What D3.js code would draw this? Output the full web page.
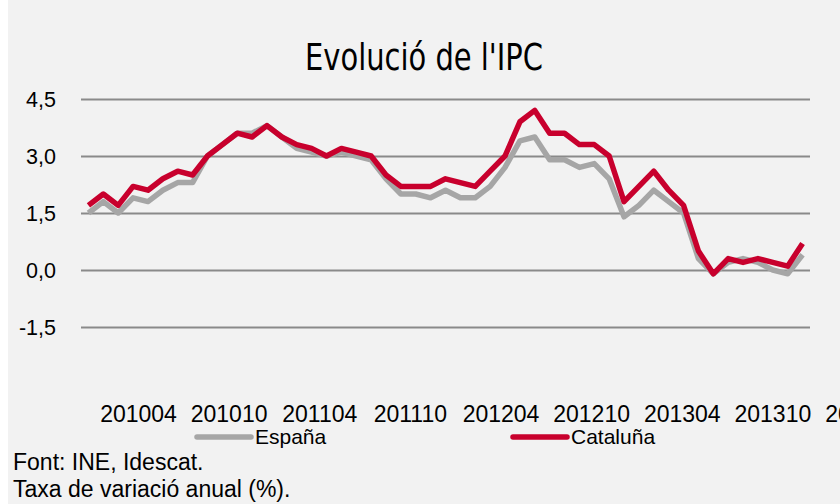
<!DOCTYPE html>
<html><head><meta charset="utf-8">
<script src="https://cdn.jsdelivr.net/npm/d3@7"></script>
<style>
html,body{margin:0;padding:0;background:#fff;}
svg{display:block;}
text{font-family:"Liberation Sans",Arial,sans-serif;fill:#000;}
</style></head>
<body>
<svg id="c" width="840" height="504"></svg>
<script>
const months = ["201004","201005","201006","201007","201008","201009","201010","201011","201012",
"201101","201102","201103","201104","201105","201106","201107","201108","201109","201110","201111","201112",
"201201","201202","201203","201204","201205","201206","201207","201208","201209","201210","201211","201212",
"201301","201302","201303","201304","201305","201306","201307","201308","201309","201310","201311","201312",
"201401","201402","201403","201404"];
const espana = [1.5,1.8,1.5,1.9,1.8,2.1,2.3,2.3,3.0,
3.3,3.6,3.6,3.8,3.5,3.2,3.1,3.0,3.1,3.0,2.9,2.4,
2.0,2.0,1.9,2.1,1.9,1.9,2.2,2.7,3.4,3.5,2.9,2.9,
2.7,2.8,2.4,1.4,1.7,2.1,1.8,1.5,0.3,-0.1,0.2,0.3,
0.2,0.0,-0.1,0.4];
const catalunya = [1.7,2.0,1.7,2.2,2.1,2.4,2.6,2.5,3.0,
3.3,3.6,3.5,3.8,3.5,3.3,3.2,3.0,3.2,3.1,3.0,2.5,
2.2,2.2,2.2,2.4,2.3,2.2,2.6,3.0,3.9,4.2,3.6,3.6,
3.3,3.3,3.0,1.8,2.2,2.6,2.1,1.7,0.5,-0.1,0.3,0.2,
0.3,0.2,0.1,0.7];
const yTicks = [4.5,3.0,1.5,0.0,-1.5];
const xLabelMonths = ["201004","201010","201104","201110","201204","201210","201304","201310","201404"];
const seriesNames = ["España","Cataluña"];
const colors = ["#a6a6a6","#c8002d"];
const title = "Evolució de l'IPC";
const notes = ["Font: INE, Idescat.","Taxa de variació anual (%)."];

const svg = d3.select("#c");
svg.append("rect").attr("x",8).attr("y",0).attr("width",832).attr("height",504).attr("fill","#f2f2f2");

const x = d3.scaleBand().domain(months).range([81,810]);
const xc = m => x(m) + x.bandwidth()/2;
const y = d3.scaleLinear().domain([-3,4.5]).range([384,99]);

// title
svg.append("text").attr("x",424).attr("y",70).attr("text-anchor","middle")
  .style("font-family","'Liberation Sans Narrow','DejaVu Sans Condensed',sans-serif")
  .style("font-size","38px").attr("textLength",238).attr("lengthAdjust","spacingAndGlyphs").text(title);

// gridlines
const yAxis = d3.axisLeft(y).tickValues(yTicks).tickSize(-729).tickPadding(25)
  .tickFormat(d => d3.format(".1f")(d).replace(".",",").replace("−","-"));
const gy = svg.append("g").attr("transform","translate(81,0)").call(yAxis);
gy.select(".domain").remove();
gy.selectAll(".tick line").attr("stroke","#8a8a8a").attr("stroke-width",1.8);
gy.selectAll(".tick text").style("font-size","21.5px").attr("fill","#000").attr("dy","0.36em");

// lines
const line = d3.line().x((d,i)=>xc(months[i])).y(d=>y(d));
[espana,catalunya].forEach((s,k)=>{
  svg.append("path").datum(s).attr("d",line).attr("fill","none")
    .attr("stroke",colors[k]).attr("stroke-width",5.5)
    .attr("stroke-linejoin","round").attr("stroke-linecap","butt");
});

// x labels (positioned on their own label scale)
const xl = d3.scalePoint().domain(xLabelMonths).range([138,863]);
const xAxis = d3.axisBottom(xl).tickSize(0).tickPadding(0);
const gx = svg.append("g").attr("transform","translate(0,405)").call(xAxis);
gx.select(".domain").remove();
gx.selectAll(".tick text").style("font-size","23px").attr("fill","#000").attr("dy","0.76em");

// legend
const legX = d3.scaleOrdinal().domain(seriesNames).range([197,513]);
seriesNames.forEach((n,k)=>{
  const lx = legX(n);
  svg.append("line").attr("x1",lx).attr("x2",lx+54).attr("y1",437).attr("y2",437)
    .attr("stroke",colors[k]).attr("stroke-width",5.5).attr("stroke-linecap","round");
  svg.append("text").attr("x",lx+58).attr("y",444).style("font-size","21px").text(n);
});

// notes
svg.append("text").attr("x",13).attr("y",470).style("font-size","23px").text(notes[0]);
svg.append("text").attr("x",13).attr("y",497).style("font-size","23px").text(notes[1]);
</script>
</body></html>
